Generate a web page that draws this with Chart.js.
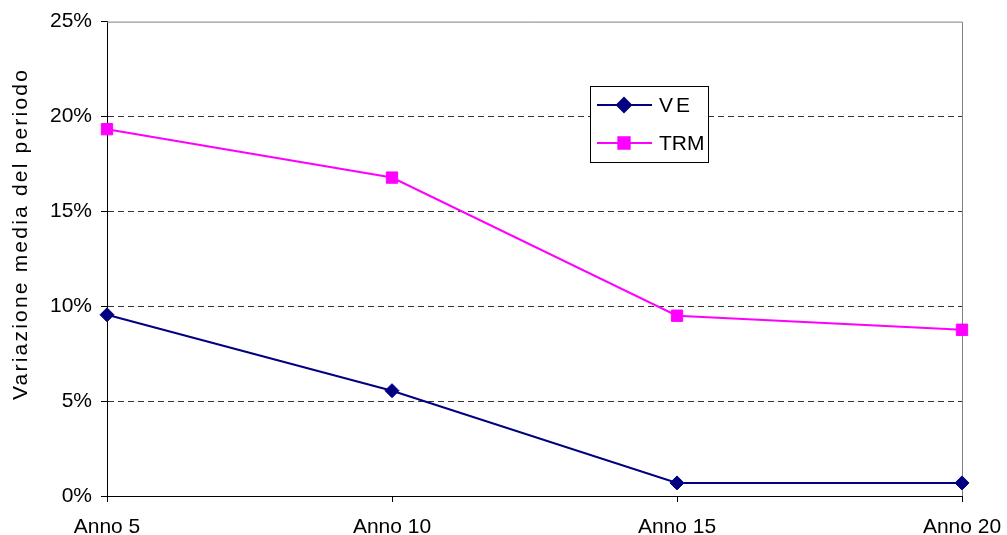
<!DOCTYPE html>
<html><head><meta charset="utf-8">
<script src="https://cdn.jsdelivr.net/npm/chart.js@4.4.1/dist/chart.umd.min.js"></script>
<style>html,body{margin:0;padding:0;background:#fff}#wrap{width:1007px;height:535px;position:relative}</style>
</head><body><div id="wrap"><canvas id="c"></canvas></div>
<script>
const categories = ['Anno 5', 'Anno 10', 'Anno 15', 'Anno 20'];
const veValues = [9.55, 5.55, 0.69, 0.69];
const trmValues = [19.33, 16.78, 9.5, 8.76];
const yTickValues = [0, 5, 10, 15, 20, 25];
const seriesNames = ['VE', 'TRM'];
const yTitle = 'Variazione media del periodo';

const FONT = '"Liberation Sans", Arial, sans-serif';

const frameAndLegend = {
  id: 'frameAndLegend',
  beforeDatasetsDraw(chart) {
    const {ctx, chartArea: a} = chart;
    ctx.save();
    ctx.strokeStyle = '#808080';
    ctx.lineWidth = 1;
    ctx.beginPath();
    ctx.moveTo(a.left, a.top + 0.5);
    ctx.lineTo(a.right + 0.5, a.top + 0.5);
    ctx.lineTo(a.right + 0.5, a.bottom);
    ctx.stroke();
    ctx.restore();
  },
  afterDraw(chart) {
    const {ctx} = chart;
    ctx.save();
    // y axis title
    ctx.translate(21, 234);
    ctx.rotate(-Math.PI / 2);
    ctx.font = '21px ' + FONT;
    ctx.fillStyle = '#000';
    ctx.textAlign = 'center';
    ctx.textBaseline = 'middle';
    try { ctx.letterSpacing = '2.2px'; } catch (e) {}
    ctx.fillText(yTitle, 0, 0);
    ctx.restore();

    // legend box
    ctx.save();
    const bx = 590.5, by = 86.5, bw = 118, bh = 76;
    ctx.fillStyle = '#fff';
    ctx.fillRect(bx, by, bw, bh);
    ctx.strokeStyle = '#000';
    ctx.lineWidth = 1;
    ctx.strokeRect(bx, by, bw, bh);
    chart.data.datasets.forEach((ds, i) => {
      const y = 105 + i * 38;
      ctx.strokeStyle = ds.borderColor;
      ctx.lineWidth = 2;
      ctx.beginPath();
      ctx.moveTo(597, y);
      ctx.lineTo(652, y);
      ctx.stroke();
      Chart.helpers.drawPoint(ctx, {pointStyle: ds.pointStyle, radius: ds.pointRadius, borderWidth: 1}, 624, y);
      ctx.fillStyle = ds.backgroundColor;
      ctx.fill();
      ctx.fillStyle = '#000';
      ctx.font = '21px ' + FONT;
      ctx.textAlign = 'left';
      ctx.textBaseline = 'middle';
      try { ctx.letterSpacing = i === 0 ? '3px' : '0px'; } catch (e) {}
      ctx.fillText(ds.label, 659, y + 1);
    });
    ctx.restore();
  }
};

new Chart(document.getElementById('c'), {
  type: 'line',
  data: {
    labels: categories,
    datasets: [
      {
        label: seriesNames[0], data: veValues,
        borderColor: '#000080', backgroundColor: '#000080',
        borderWidth: 2, pointStyle: 'rectRot', pointRadius: 7,
        pointBorderWidth: 1, pointBackgroundColor: '#000080', pointBorderColor: '#000080'
      },
      {
        label: seriesNames[1], data: trmValues,
        borderColor: '#FF00FF', backgroundColor: '#FF00FF',
        borderWidth: 2, pointStyle: 'rect', pointRadius: 8,
        pointBorderWidth: 1, pointBackgroundColor: '#FF00FF', pointBorderColor: '#FF00FF'
      }
    ]
  },
  options: {
    responsive: true,
    maintainAspectRatio: false,
    animation: false,
    layout: {padding: {left: 0, right: 45, top: 21, bottom: 0}},
    plugins: {legend: {display: false}, tooltip: {enabled: false}},
    scales: {
      x: {
        offset: false,
        afterFit: s => { s.height = 39; s.paddingLeft = 0; s.paddingRight = 0; },
        grid: {drawOnChartArea: false, drawTicks: true, tickLength: 6, tickColor: '#000'},
        border: {display: true, color: '#000', width: 1},
        ticks: {color: '#000', font: {family: FONT, size: 21}, padding: 13, maxRotation: 0, autoSkip: false}
      },
      y: {
        min: 0, max: 25,
        afterFit: s => { s.width = 107; },
        afterBuildTicks: s => { s.ticks = yTickValues.map(v => ({value: v})); },
        grid: {
          color: c => (c.tick && (c.tick.value === 0 || c.tick.value === 25)) ? 'rgba(0,0,0,0)' : '#333',
          lineWidth: 1, drawTicks: true, tickLength: 6, tickColor: '#000'
        },
        border: {display: true, color: '#000', width: 1, dash: [6, 4]},
        ticks: {color: '#000', font: {family: FONT, size: 21}, padding: 9, callback: v => v + '%'}
      }
    }
  },
  plugins: [frameAndLegend]
});
</script>
</body></html>
